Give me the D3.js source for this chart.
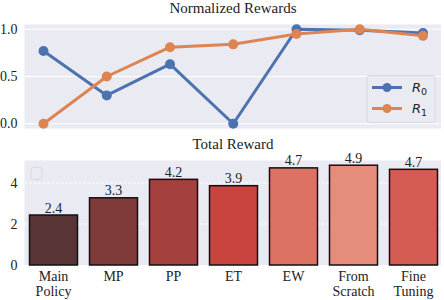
<!DOCTYPE html>
<html>
<head>
<meta charset="utf-8">
<script src="https://d3js.org/d3.v7.min.js"></script>
<style>
  body { margin: 0; background: #fff; }
  text { font-family: "Liberation Serif", "Times New Roman", serif; fill: #222; }
</style>
</head>
<body>
<script>
// Chart data
//=======================================
var steps = [0, 1, 2, 3, 4, 5, 6];
var r0Values = [0.77, 0.30, 0.63, 0.00, 1.00, 0.99, 0.96];
var r1Values = [0.00, 0.50, 0.81, 0.84, 0.95, 1.00, 0.93];
var topTicks = [0.0, 0.5, 1.0];

var methods = [["Main", "Policy"], ["MP"], ["PP"], ["ET"], ["EW"], ["From", "Scratch"], ["Fine", "Tuning"]];
var totalReward = [2.44, 3.28, 4.18, 3.87, 4.74, 4.87, 4.67];
var barColors = ["#5a3535", "#803a3a", "#a4403e", "#c9433f", "#dc7264", "#e68c7b", "#d55c53"];
var bottomTicks = [0, 2, 4];

var svgWidth = 444;
var svgHeight = 300;

var svg = d3.select("body")
  .append("svg")
  .attr("width", svgWidth)
  .attr("height", svgHeight);

// Top panel: normalized rewards
//=======================================
var topBox = { left: 24.5, right: 441, top: 24.5, bottom: 128.5 };

var xPoint = d3.scaleLinear()
  .domain([0, 6])
  .range([43.5, 423]);

var yTop = d3.scaleLinear()
  .domain([-0.05, 1.05])
  .range([topBox.bottom, topBox.top]);

svg.append("rect")
  .attr("x", topBox.left)
  .attr("y", topBox.top)
  .attr("width", topBox.right - topBox.left)
  .attr("height", topBox.bottom - topBox.top)
  .attr("fill", "#eaeaf2");

svg.append("g").selectAll("line")
  .data(topTicks)
  .enter()
  .append("line")
  .attr("x1", topBox.left)
  .attr("x2", topBox.right)
  .attr("y1", d => yTop(d))
  .attr("y2", d => yTop(d))
  .attr("stroke", "#fff")
  .attr("stroke-width", 1);

svg.append("g").selectAll("text")
  .data(topTicks)
  .enter()
  .append("text")
  .attr("x", 17.5)
  .attr("y", d => yTop(d))
  .attr("dy", "0.33em")
  .attr("text-anchor", "end")
  .attr("font-size", "14px")
  .text(d => d3.format(".1f")(d));

svg.append("text")
  .attr("x", 233)
  .attr("y", 13)
  .attr("text-anchor", "middle")
  .attr("font-size", "15px")
  .text("Normalized Rewards");

var line = d3.line()
  .x((d, i) => xPoint(steps[i]))
  .y(d => yTop(d));

var series = [
  { name: "0", values: r0Values, color: "#4c72b0" },
  { name: "1", values: r1Values, color: "#dd8452" }
];

series.forEach(function(s) {
  var g = svg.append("g");
  g.append("path")
    .datum(s.values)
    .attr("d", line)
    .attr("fill", "none")
    .attr("stroke", s.color)
    .attr("stroke-width", 3)
    .attr("stroke-linejoin", "round");
  g.selectAll("circle")
    .data(s.values)
    .enter()
    .append("circle")
    .attr("cx", (d, i) => xPoint(steps[i]))
    .attr("cy", d => yTop(d))
    .attr("r", 5)
    .attr("fill", s.color);
});

// legend
var legend = svg.append("g");
legend.append("rect")
  .attr("x", 367)
  .attr("y", 75.5)
  .attr("width", 68)
  .attr("height", 47)
  .attr("rx", 3)
  .attr("fill", "#eaeaf2")
  .attr("stroke", "#d8d8e0")
  .attr("stroke-width", 1);

series.forEach(function(s, i) {
  var y = 87.5 + i * 21;
  legend.append("line")
    .attr("x1", 372).attr("x2", 402)
    .attr("y1", y).attr("y2", y)
    .attr("stroke", s.color)
    .attr("stroke-width", 3);
  legend.append("circle")
    .attr("cx", 387).attr("cy", y).attr("r", 4.5)
    .attr("fill", s.color);
  var t = legend.append("text")
    .attr("x", 412)
    .attr("y", y + 4.5)
    .style("font-family", "'DejaVu Sans', sans-serif")
    .attr("font-size", "13px");
  t.append("tspan").attr("font-style", "italic").text("R");
  t.append("tspan").attr("font-size", "9.5px").attr("dy", 2.5).text(s.name);
});

// Bottom panel: total reward
//=======================================
var bot = { left: 24.5, right: 441, top: 160.5, bottom: 265 };

var xBand = d3.scaleBand()
  .domain(d3.range(methods.length))
  .range([23.5, 443.5])
  .paddingInner(0.2)
  .paddingOuter(0.1);

var yBot = d3.scaleLinear()
  .domain([0, 5.1])
  .range([bot.bottom, bot.top]);

svg.append("rect")
  .attr("x", bot.left)
  .attr("y", bot.top)
  .attr("width", bot.right - bot.left)
  .attr("height", bot.bottom - bot.top)
  .attr("fill", "#eaeaf2");

svg.append("g").selectAll("line")
  .data(bottomTicks.slice(1))
  .enter()
  .append("line")
  .attr("x1", bot.left)
  .attr("x2", bot.right)
  .attr("y1", d => yBot(d))
  .attr("y2", d => yBot(d))
  .attr("stroke", "#fff")
  .attr("stroke-width", 1)
  .attr("stroke-dasharray", "3,1.5");

svg.append("g").selectAll("text")
  .data(bottomTicks)
  .enter()
  .append("text")
  .attr("x", 17.5)
  .attr("y", d => yBot(d))
  .attr("dy", "0.33em")
  .attr("text-anchor", "end")
  .attr("font-size", "14px")
  .text(d => d);

svg.append("text")
  .attr("x", 233)
  .attr("y", 149)
  .attr("text-anchor", "middle")
  .attr("font-size", "15px")
  .text("Total Reward");

// empty legend box
svg.append("rect")
  .attr("x", 31)
  .attr("y", 167.5)
  .attr("width", 11)
  .attr("height", 12)
  .attr("rx", 2.5)
  .attr("fill", "none")
  .attr("stroke", "#d8d8e0")
  .attr("stroke-width", 1);

svg.append("g").selectAll("rect")
  .data(totalReward)
  .enter()
  .append("rect")
  .attr("x", (d, i) => xBand(i))
  .attr("y", d => yBot(d))
  .attr("width", xBand.bandwidth())
  .attr("height", d => yBot(0) - yBot(d))
  .attr("fill", (d, i) => barColors[i])
  .attr("stroke", "#111")
  .attr("stroke-width", 1.5);

svg.append("g").selectAll("text")
  .data(totalReward)
  .enter()
  .append("text")
  .attr("x", (d, i) => xBand(i) + xBand.bandwidth() / 2)
  .attr("y", d => yBot(d) - 2.5)
  .attr("text-anchor", "middle")
  .attr("font-size", "14px")
  .text(d => d3.format(".1f")(d));

var xLabels = svg.append("g").selectAll("text")
  .data(methods)
  .enter()
  .append("text")
  .attr("x", (d, i) => xBand(i) + xBand.bandwidth() / 2)
  .attr("y", 281)
  .attr("text-anchor", "middle")
  .attr("font-size", "14px");

xLabels.selectAll("tspan")
  .data(d => d)
  .enter()
  .append("tspan")
  .attr("x", function() { return d3.select(this.parentNode).attr("x"); })
  .attr("dy", (d, i) => i === 0 ? 0 : 15)
  .text(d => d);
</script>
</body>
</html>
